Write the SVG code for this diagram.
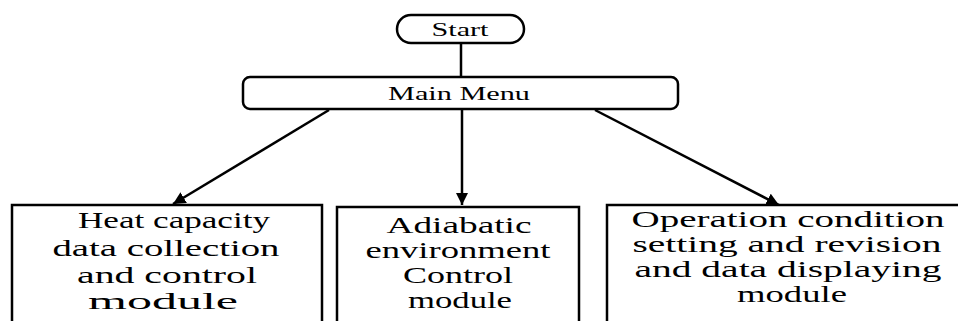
<svg xmlns="http://www.w3.org/2000/svg" width="958" height="321" viewBox="0 0 958 321">
<defs>
<style>
.box{fill:#fff;stroke:#000;stroke-width:2.5}
.ln{stroke:#000;stroke-width:2.5;fill:none}
text{font-family:"Liberation Serif","Times New Roman",Tinos,"DejaVu Serif",serif;fill:#000;text-anchor:middle}
.big{font-size:23px}
</style>
<marker id="ah" viewBox="0 0 10 10" refX="10" refY="5" markerWidth="5" markerHeight="5" orient="auto" markerUnits="strokeWidth">
<path d="M0,0 L10,5 L0,10 z" fill="#000"/>
</marker>
</defs>
<rect width="958" height="321" fill="#fff"/>
<g id="connectors">
<line class="ln" x1="461" y1="43" x2="461" y2="77"/>
<line class="ln" x1="329" y1="110" x2="173" y2="204" marker-end="url(#ah)"/>
<line class="ln" x1="462" y1="110" x2="462" y2="205" marker-end="url(#ah)"/>
<line class="ln" x1="595" y1="110" x2="779" y2="205" marker-end="url(#ah)"/>
</g>
<g id="start">
<rect class="box" x="397" y="15" width="127" height="28" rx="14"/>
<text x="460" y="36" font-size="19" textLength="57" lengthAdjust="spacingAndGlyphs">Start</text>
</g>
<g id="main-menu">
<rect class="box" x="243" y="77" width="435" height="32" rx="7"/>
<text x="459" y="100" font-size="18" textLength="142" lengthAdjust="spacingAndGlyphs">Main Menu</text>
</g>
<g id="heat-capacity">
<rect class="box" x="12" y="205" width="310" height="130"/>
<text class="big" x="174" y="228" textLength="192" lengthAdjust="spacingAndGlyphs">Heat capacity</text>
<text class="big" x="166" y="256" textLength="227" lengthAdjust="spacingAndGlyphs">data collection</text>
<text class="big" x="167" y="283" textLength="180" lengthAdjust="spacingAndGlyphs">and control</text>
<text class="big" x="163" y="309" textLength="150" lengthAdjust="spacingAndGlyphs">module</text>
</g>
<g id="adiabatic">
<rect class="box" x="337" y="207" width="242" height="130"/>
<text class="big" x="459" y="233" textLength="145" lengthAdjust="spacingAndGlyphs">Adiabatic</text>
<text class="big" x="458" y="258" textLength="185" lengthAdjust="spacingAndGlyphs">environment</text>
<text class="big" x="458" y="283" textLength="110" lengthAdjust="spacingAndGlyphs">Control</text>
<text class="big" x="460" y="308" textLength="104" lengthAdjust="spacingAndGlyphs">module</text>
</g>
<g id="operation">
<rect class="box" x="607" y="205" width="370" height="130"/>
<text class="big" x="788" y="227" textLength="313" lengthAdjust="spacingAndGlyphs">Operation condition</text>
<text class="big" x="787" y="252" textLength="309" lengthAdjust="spacingAndGlyphs">setting and revision</text>
<text class="big" x="788" y="277" textLength="307" lengthAdjust="spacingAndGlyphs">and data displaying</text>
<text class="big" x="792" y="302" textLength="110" lengthAdjust="spacingAndGlyphs">module</text>
</g>
</svg>
